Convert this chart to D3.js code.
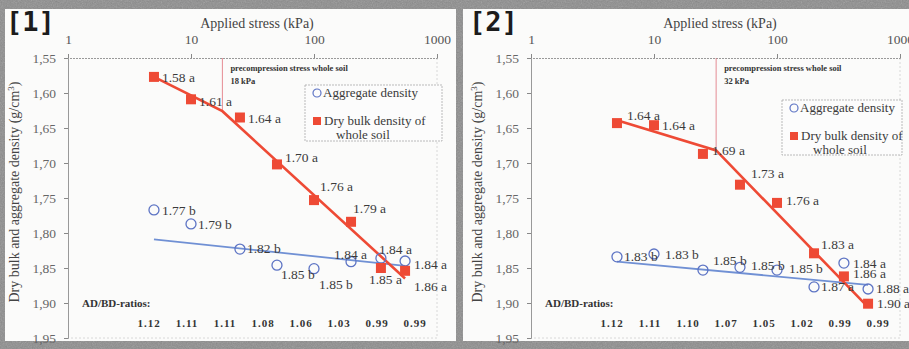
<!DOCTYPE html>
<html>
<head>
<meta charset="utf-8">
<script src="https://cdn.jsdelivr.net/npm/d3@7"></script>
<style>
  html, body { margin: 0; padding: 0; background: #8c8c8c; }
  svg { display: block; }
  svg text { font-family: 'Liberation Serif', 'DejaVu Serif', serif; }
</style>
</head>
<body>
<svg id="chart"></svg>
<script>
const width = 909, height = 349;

// applied stress steps (kPa)
const stress = [5, 10, 25, 50, 100, 200, 350, 550];
const yTicks = [1.55, 1.60, 1.65, 1.70, 1.75, 1.80, 1.85, 1.90, 1.95];
const xTicks = [1, 10, 100, 1000];

// panel [1]
const bulk1 = [1.577, 1.609, 1.635, 1.702, 1.753, 1.784, 1.850, 1.854];
const bulkLab1 = ['1.58 a', '1.61 a', '1.64 a', '1.70 a', '1.76 a', '1.79 a', '1.85 a', '1.86 a'];
const agg1 = [1.767, 1.787, 1.823, 1.846, 1.851, 1.841, 1.836, 1.840];
const aggLab1 = ['1.77 b', '1.79 b', '1.82 b', '1.85 b', '1.85 b', '1.84 a', '1.84 a', '1.84 a'];
const ratios1 = ['1.12', '1.11', '1.11', '1.08', '1.06', '1.03', '0.99', '0.99'];
const bulkFit1 = [[5, 1.577], [18, 1.626], [550, 1.865]];
const aggFit1 = [[5, 1.809], [550, 1.847]];
const precomp1 = 18;

// panel [2]
const bulk2 = [1.643, 1.646, 1.687, 1.731, 1.757, 1.829, 1.862, 1.901];
const bulkLab2 = ['1.64 a', '1.64 a', '1.69 a', '1.73 a', '1.76 a', '1.83 a', '1.86 a', '1.90 a'];
const agg2 = [1.834, 1.830, 1.853, 1.849, 1.853, 1.877, 1.843, 1.880];
const aggLab2 = ['1.83 b', '1.83 b', '1.85 b', '1.85 b', '1.85 b', '1.87 a', '1.84 a', '1.88 a'];
const ratios2 = ['1.12', '1.11', '1.10', '1.07', '1.05', '1.02', '0.99', '0.99'];
const bulkFit2 = [[5, 1.639], [32, 1.682], [550, 1.906]];
const aggFit2 = [[5, 1.841], [550, 1.874]];
const precomp2 = 32;

const red = '#ee4a35', blue = '#5d74c4', txt = '#3a3a3a';
const serif = "'Liberation Serif', 'DejaVu Serif', serif";

const panels = [
  { name: '[1]', left: 0, w: 456, bulk: bulk1, bulkLab: bulkLab1, agg: agg1, aggLab: aggLab1,
    ratios: ratios1, bulkFit: bulkFit1, aggFit: aggFit1, pc: precomp1,
    legend: [305, 85, 137, 56],
    bulkNudge: [[8, 5], [8, 7], [8, 5], [8, -2], [6, -9], [2, -9], [-12, 16], [9, 20]],
    aggNudge: [[8, 5], [7, 5], [7, 4], [4, 14], [5, 20], [-17, -3], [-2, -4], [9, 8]] },
  { name: '[2]', left: 463, w: 446, bulk: bulk2, bulkLab: bulkLab2, agg: agg2, aggLab: aggLab2,
    ratios: ratios2, bulkFit: bulkFit2, aggFit: aggFit2, pc: precomp2,
    legend: [319, 100, 120, 55],
    bulkNudge: [[10, -3], [8, 5], [9, 1], [11, -7], [9, 2], [7, -4], [9, 2], [9, 4]],
    aggNudge: [[7, 4], [11, 5], [10, -5], [11, 3], [12, 3], [7, 4], [9, 5], [8, 4]] }
];

const svg = d3.select('#chart').attr('width', width).attr('height', height);

// scanned paper look: grey grain behind the white panels
const defs = svg.append('defs');
const grain = defs.append('filter').attr('id', 'grain');
grain.append('feTurbulence').attr('type', 'fractalNoise').attr('baseFrequency', 0.8)
  .attr('numOctaves', 2).attr('seed', 4);
grain.append('feColorMatrix').attr('type', 'saturate').attr('values', 0);
svg.append('rect').attr('width', width).attr('height', height).attr('fill', '#8c8c8c');
svg.append('rect').attr('width', width).attr('height', height)
  .attr('filter', 'url(#grain)').attr('opacity', 0.35);

const x = d3.scaleLog().domain([1, 1000]).range([68, 437]);
const y = d3.scaleLinear().domain([1.55, 1.95]).range([58, 338]);
const line = d3.line().x(d => x(d[0])).y(d => y(d[1]));

panels.forEach(p => {
  const g = svg.append('g').attr('transform', `translate(${p.left},0)`);

  g.append('rect').attr('x', p.left === 0 ? 5 : 0).attr('y', 9)
    .attr('width', p.left === 0 ? p.w - 5 : p.w).attr('height', 332).attr('fill', '#fbfbfa');

  g.append('text').attr('x', 6).attr('y', 31)
    .style('font-family', "'DejaVu Sans Mono', monospace").style('font-weight', 'bold')
    .style('font-size', '27px').attr('fill', '#1c1c1c').text(p.name);

  // faint plot frame
  g.append('path').attr('d', `M${x(1000)},58V338H68`)
    .attr('fill', 'none').attr('stroke', '#d8d8d8').attr('stroke-dasharray', '2,2');

  // top axis
  const ax = g.append('g').attr('transform', 'translate(0,58)')
    .call(d3.axisTop(x).tickValues(xTicks).tickFormat(d3.format('d')).tickSize(4).tickPadding(10));
  ax.select('.domain').attr('stroke', '#999').attr('stroke-dasharray', '2,1');
  ax.selectAll('.tick line').attr('stroke', '#888');
  ax.selectAll('text').style('font-family', serif).style('font-size', '13.5px').attr('fill', '#555');

  g.append('text').attr('x', 257).attr('y', 28).attr('text-anchor', 'middle')
    .style('font-family', serif).style('font-size', '14px').attr('fill', '#444')
    .text('Applied stress (kPa)');

  // left axis
  const ay = g.append('g').attr('transform', 'translate(68,0)')
    .call(d3.axisLeft(y).tickValues(yTicks)
      .tickFormat(d => d3.format('.2f')(d).replace('.', ',')).tickSize(4).tickPadding(8));
  ay.select('.domain').attr('stroke', '#999');
  ay.selectAll('.tick line').attr('stroke', '#888');
  ay.selectAll('text').style('font-family', serif).style('font-size', '13.5px').attr('fill', '#666');

  g.append('text').attr('transform', 'translate(19,192) rotate(-90)').attr('text-anchor', 'middle')
    .style('font-family', serif).style('font-size', '14px').attr('fill', '#444')
    .html('Dry bulk and aggregate density (g/cm<tspan dy="-5" font-size="9">3</tspan><tspan dy="5">)</tspan>');

  // precompression stress marker
  const pcY = p.bulkFit[1][1];
  g.append('line').attr('x1', x(p.pc)).attr('x2', x(p.pc)).attr('y1', 58).attr('y2', y(pcY))
    .attr('stroke', '#e0707a').attr('stroke-width', 0.8);
  const pcText = g.append('text').style('font-family', serif).style('font-weight', 'bold')
    .style('font-size', '8.5px').attr('fill', '#333');
  pcText.append('tspan').attr('x', x(p.pc) + 8).attr('y', 71).text('precompression stress whole soil');
  pcText.append('tspan').attr('x', x(p.pc) + 8).attr('y', 84).text(`${p.pc} kPa`);

  // fitted lines
  g.append('path').datum(p.aggFit).attr('d', line)
    .attr('fill', 'none').attr('stroke', '#7090d4').attr('stroke-width', 1.8);
  g.append('path').datum(p.bulkFit).attr('d', line)
    .attr('fill', 'none').attr('stroke', red).attr('stroke-width', 2.6);

  // aggregate density points
  g.selectAll('.agg').data(p.agg).enter().append('circle').attr('class', 'agg')
    .attr('cx', (d, i) => x(stress[i])).attr('cy', d => y(d)).attr('r', 5)
    .attr('fill', 'none').attr('stroke', blue).attr('stroke-width', 1.3);

  // whole soil points
  g.selectAll('.bulk').data(p.bulk).enter().append('rect').attr('class', 'bulk')
    .attr('x', (d, i) => x(stress[i]) - 5).attr('y', d => y(d) - 5)
    .attr('width', 10).attr('height', 10).attr('fill', red);

  const labStyle = s => s.style('font-family', serif).style('font-size', '13.5px').attr('fill', txt);

  g.selectAll('.aggLab').data(p.agg).enter().append('text').attr('class', 'aggLab')
    .attr('x', (d, i) => x(stress[i]) + p.aggNudge[i][0])
    .attr('y', (d, i) => y(d) + p.aggNudge[i][1])
    .text((d, i) => p.aggLab[i]).call(labStyle);

  g.selectAll('.bulkLab').data(p.bulk).enter().append('text').attr('class', 'bulkLab')
    .attr('x', (d, i) => x(stress[i]) + p.bulkNudge[i][0])
    .attr('y', (d, i) => y(d) + p.bulkNudge[i][1])
    .text((d, i) => p.bulkLab[i]).call(labStyle);

  // legend
  const [lx, ly, lw, lh] = p.legend;
  const lg = g.append('g').attr('transform', `translate(${lx},${ly})`);
  lg.append('rect').attr('width', lw).attr('height', lh).attr('fill', '#fcfcfc')
    .attr('stroke', '#aaa').attr('stroke-dasharray', '2,1').attr('stroke-width', 0.8);
  lg.append('circle').attr('cx', 12).attr('cy', 8).attr('r', 4)
    .attr('fill', 'none').attr('stroke', blue).attr('stroke-width', 1.2);
  lg.append('rect').attr('x', 8).attr('y', 32).attr('width', 8).attr('height', 8).attr('fill', red);
  const lt = lg.append('text').style('font-family', serif).style('font-size', '13px').attr('fill', txt);
  lt.append('tspan').attr('x', 18).attr('y', 12).text('Aggregate density');
  lt.append('tspan').attr('x', 19).attr('y', 40).text('Dry bulk density of');
  lt.append('tspan').attr('x', 31).attr('y', 54).text('whole soil');

  // AD/BD ratios row
  g.append('text').attr('x', 82).attr('y', 307)
    .style('font-family', serif).style('font-weight', 'bold').style('font-size', '11px')
    .attr('fill', '#333').text('AD/BD-ratios:');
  const rx = d3.scalePoint().domain(d3.range(p.ratios.length)).range([149, 415]);
  g.selectAll('.ratio').data(p.ratios).enter().append('text').attr('class', 'ratio')
    .attr('x', (d, i) => rx(i)).attr('y', 327).attr('text-anchor', 'middle')
    .style('font-family', serif).style('font-weight', 'bold').style('font-size', '11px')
    .style('letter-spacing', '1px').attr('fill', '#333').text(d => d);
});
</script>
</body>
</html>
